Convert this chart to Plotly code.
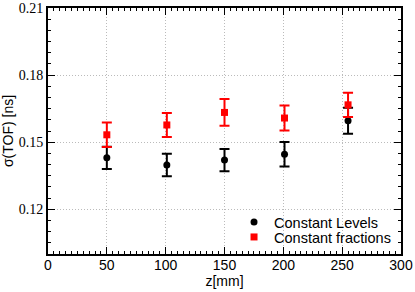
import plotly.graph_objects as go

z_levels = [50, 101, 150, 201, 255]
sigma_levels = [0.1430, 0.1398, 0.1420, 0.1446, 0.1596]
err_levels = [0.0050, 0.0050, 0.0050, 0.0055, 0.0058]

z_fractions = [50, 101, 150, 201, 255]
sigma_fractions = [0.1533, 0.1577, 0.1633, 0.1608, 0.1667]
err_fractions = [0.0055, 0.0054, 0.0060, 0.0056, 0.0054]

x_ticks = [0, 50, 100, 150, 200, 250, 300]
y_ticks = [0.12, 0.15, 0.18, 0.21]

fig = go.Figure()
fig.add_trace(go.Scatter(
    x=z_levels, y=sigma_levels, mode="markers", name="Constant Levels",
    marker=dict(symbol="circle", size=7, color="black"),
    error_y=dict(type="data", array=err_levels, visible=True, color="black", thickness=2, width=5),
    legend="legend",
))
fig.add_trace(go.Scatter(
    x=z_fractions, y=sigma_fractions, mode="markers", name="Constant fractions",
    marker=dict(symbol="square", size=7, color="red"),
    error_y=dict(type="data", array=err_fractions, visible=True, color="red", thickness=2, width=5),
    legend="legend2",
))

legend_font = dict(family="Liberation Sans", size=14.5, color="black")
fig.update_layout(
    width=415, height=292,
    margin=dict(l=48, r=14, t=8, b=38),
    paper_bgcolor="white", plot_bgcolor="white",
    showlegend=True,
    legend=dict(x=0.527, y=0.130, xanchor="left", yanchor="middle",
                bgcolor="rgba(0,0,0,0)", font=legend_font, itemwidth=30),
    legend2=dict(x=0.527, y=0.069, xanchor="left", yanchor="middle",
                 bgcolor="rgba(0,0,0,0)", font=legend_font, itemwidth=30),
)
fig.update_xaxes(
    range=[0, 300], tickvals=x_ticks, ticktext=[str(v) for v in x_ticks],
    showline=True, linecolor="black", linewidth=2, mirror="ticks",
    ticks="inside", ticklen=7, tickwidth=1, tickcolor="black",
    minor=dict(dtick=5, ticks="inside", ticklen=3, tickcolor="black", showgrid=False),
    showgrid=True, gridcolor="#bbbbbb", griddash="1px,2px", gridwidth=1,
    zeroline=False, automargin=False, ticklabelstandoff=-3,
    tickfont=dict(family="Liberation Sans", size=14, color="black"),
    title=dict(text="z[mm]", font=dict(family="Liberation Sans", size=14, color="black"), standoff=0),
)
fig.update_yaxes(
    range=[0.10, 0.21], tickvals=y_ticks, ticktext=["0.12", "0.15", "0.18", "0.21"],
    showline=True, linecolor="black", linewidth=2, mirror="ticks",
    ticks="inside", ticklen=7, tickwidth=1, tickcolor="black",
    minor=dict(dtick=0.005, tick0=0.0, ticks="inside", ticklen=3, tickcolor="black", showgrid=False),
    showgrid=True, gridcolor="#bbbbbb", griddash="1px,2px", gridwidth=1,
    zeroline=False, automargin=False,
    tickfont=dict(family="Liberation Serif", size=14, color="black"),
    title=dict(text="σ(TOF) [ns]", font=dict(family="Liberation Sans", size=14, color="black"), standoff=2),
)

fig.write_html("out.html", config={"displayModeBar": False},
               post_script="document.body.style.margin='0';")
